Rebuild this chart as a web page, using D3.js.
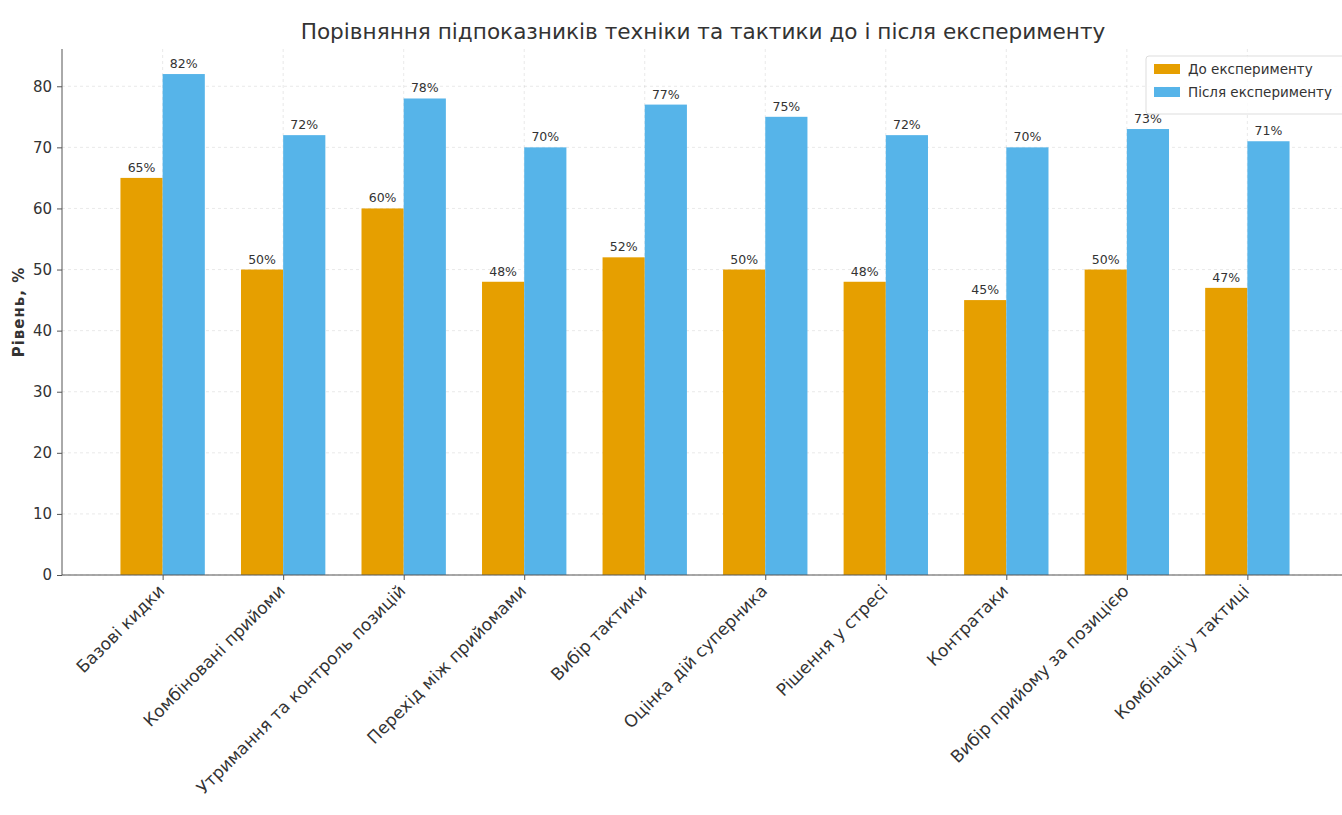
<!DOCTYPE html>
<html><head><meta charset="utf-8">
<script src="https://cdn.jsdelivr.net/npm/d3@7"></script>
<style>body{margin:0;background:#fff;} svg{display:block;font-family:"DejaVu Sans",sans-serif;}</style>
</head><body>
<svg id="c" width="1342" height="815"></svg>
<script>
const categories = ["Базові кидки","Комбіновані прийоми","Утримання та контроль позицій","Перехід між прийомами","Вибір тактики","Оцінка дій суперника","Рішення у стресі","Контратаки","Вибір прийому за позицією","Комбінації у тактиці"];
const before = [65,50,60,48,52,50,48,45,50,47];
const after = [82,72,78,70,77,75,72,70,73,71];
const yTicks = [0,10,20,30,40,50,60,70,80];
const seriesNames = ["До експерименту","Після експерименту"];
const colors = ["#E69F00","#56B4E9"];

(function(){
const svg = d3.select("#c");
const mL = 62, mR = 1348, mT = 49, mB = 575;
const bw = 0.35;
const x = d3.scaleLinear().domain([-0.835, 9.835]).range([mL, mR]);
const y = d3.scaleLinear().domain([0, 86.1]).range([mB, mT]);

// grid
const g = svg.append("g");
g.selectAll(".hg").data(yTicks).join("line")
  .attr("x1", mL).attr("x2", mR).attr("y1", d=>y(d)).attr("y2", d=>y(d))
  .attr("stroke", "#b0b0b0").attr("stroke-opacity", 0.35).attr("stroke-dasharray", "3,3").attr("stroke-width", 0.8);
g.selectAll(".vg").data(categories).join("line")
  .attr("x1", (d,i)=>x(i)).attr("x2", (d,i)=>x(i)).attr("y1", mT).attr("y2", mB)
  .attr("stroke", "#b0b0b0").attr("stroke-opacity", 0.35).attr("stroke-dasharray", "3,3").attr("stroke-width", 0.8);

const series = [before, after];
series.forEach((vals, s) => {
  const off = s === 0 ? -bw/2 : bw/2;
  svg.append("g").selectAll("rect").data(vals).join("rect")
    .attr("x", (d,i)=>x(i+off-bw/2)).attr("width", x(bw)-x(0))
    .attr("y", d=>y(d)).attr("height", d=>y(0)-y(d))
    .attr("fill", colors[s]);
  svg.append("g").selectAll("text").data(vals).join("text")
    .attr("x", (d,i)=>x(i+off)).attr("y", d=>y(d)-6)
    .attr("text-anchor", "middle").attr("font-size", 12.5).attr("fill", "#333")
    .text(d=>d+"%");
});

// axes
const yAxis = d3.axisLeft(y).tickValues(yTicks).tickSize(5).tickPadding(5);
const ya = svg.append("g").attr("transform", `translate(${mL},0)`).call(yAxis);
ya.select(".domain").attr("stroke", "#555").attr("d", `M0,${mT}V${mB}`);
ya.selectAll(".tick line").attr("stroke", "#555");
ya.selectAll(".tick text").attr("font-size", 15).attr("fill", "#333").attr("font-family", "DejaVu Sans");

const xa = svg.append("g").attr("transform", `translate(0,${mB})`)
  .call(d3.axisBottom(x).tickValues(d3.range(categories.length)).tickSize(5).tickFormat(""));
xa.select(".domain").attr("stroke", "#555").attr("d", `M${mL},0H${mR}`);
xa.selectAll(".tick line").attr("stroke", "#555");

svg.append("g").selectAll("text").data(categories).join("text")
  .attr("transform", (d,i)=>`translate(${x(i)+3},${mB+17}) rotate(-45)`)
  .attr("text-anchor", "end").attr("font-size", 17).attr("fill", "#333")
  .text(d=>d);

// title
svg.append("text").attr("x", 703).attr("y", 39).attr("text-anchor", "middle")
  .attr("font-size", 21.6).attr("fill", "#333").text("Порівняння підпоказників техніки та тактики до і після експерименту");

// y label
svg.append("text").attr("transform", "translate(24,312) rotate(-90)").attr("text-anchor", "middle")
  .attr("font-size", 15).attr("letter-spacing", 1).attr("font-weight", "bold").attr("fill", "#333").text("Рівень, %");

// legend
const lg = svg.append("g").attr("transform", "translate(1146,56)");
lg.append("rect").attr("x", 0).attr("y", 0).attr("width", 200).attr("height", 58).attr("rx", 3)
  .attr("fill", "#fff").attr("fill-opacity", 0.85).attr("stroke", "#ddd");
seriesNames.forEach((n, i) => {
  lg.append("rect").attr("x", 8).attr("y", 8 + i*23).attr("width", 26).attr("height", 10).attr("fill", colors[i]);
  lg.append("text").attr("x", 42).attr("y", 18 + i*23).attr("font-size", 13.5).attr("fill", "#333").text(n);
});
})();
</script>
</body></html>
